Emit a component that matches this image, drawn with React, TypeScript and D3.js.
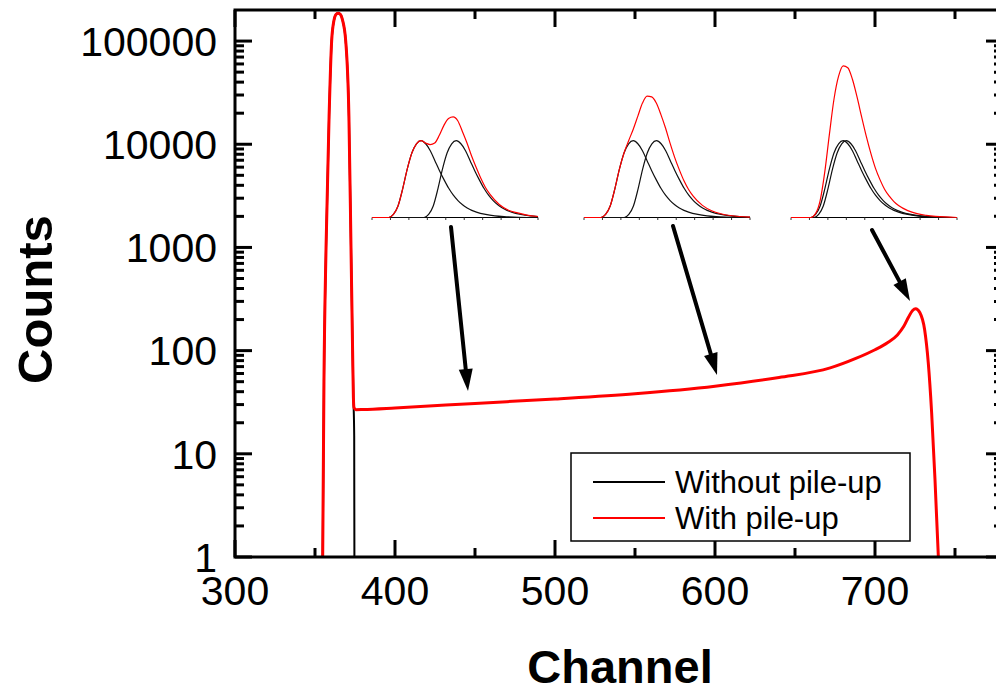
import React from 'react';
import * as d3 from 'd3';

const W = 996;
const H = 692;
const plot = { left: 235, top: 10, right: 1003, bottom: 557 };

// Spectrum without pile-up (channel, counts)
const withoutChannels = [354.6, 354.8, 355.6, 356.9, 358.8, 360.4, 361.9, 363.2, 364.5, 365.8, 367.2, 369.2, 371.2, 372.5, 373.5, 374.0, 374.5, 374.7];
const withoutCounts = [0.5, 1, 50, 1000, 18600, 100000, 160000, 182000, 186000, 182000, 160000, 100000, 18600, 1000, 100, 35, 15, 0.2];

// Spectrum with pile-up (channel, counts)
const withChannels = [354.6, 354.8, 355.6, 356.9, 358.8, 360.4, 361.9, 363.2, 364.5, 365.8, 367.2, 369.2, 371.2, 372.5, 373.5, 374.0, 374.4, 375.5, 380, 400, 450, 500, 550, 600, 640, 672, 688, 700, 708, 714, 718, 721, 723.5, 725.4, 728, 731, 733.3, 735.4, 737.5, 739.6, 741];
const withCounts = [0.5, 1, 50, 1000, 18600, 100000, 160000, 182000, 186000, 182000, 160000, 100000, 18600, 1000, 100, 35, 28, 26.8, 26.9, 27.8, 30.8, 34.0, 38.2, 45.2, 55, 68, 84, 102, 120, 142, 172, 212, 245, 255, 234, 160, 76, 25, 5.6, 1, 0.4];

const xMajorTicks = [300, 400, 500, 600, 700];
const xMinorTicks = [350, 450, 550, 650, 750];
const yTickValues = [1, 10, 100, 1000, 10000, 100000];
const yTickLabels = ['1', '10', '100', '1000', '10000', '100000'];
const legendLabels = ['Without pile-up', 'With pile-up'];
const xTitle = 'Channel';
const yTitle = 'Counts';

// Single detector pulse: offset from its peak (time units) and relative amplitude
const pulseOffsets = [-1.75, -1.5, -1.25, -1, -0.75, -0.5, -0.25, 0, 0.25, 0.5, 0.75, 1, 1.25, 1.5, 1.75, 2, 2.25, 2.5, 2.75, 3, 3.5, 4, 4.5, 5, 6];
const pulseHeights = [0, 0.04, 0.15, 0.37, 0.63, 0.84, 0.96, 1, 0.96, 0.87, 0.74, 0.61, 0.49, 0.38, 0.29, 0.22, 0.165, 0.125, 0.093, 0.07, 0.04, 0.022, 0.012, 0.006, 0];

// Peak times of the two pulses in each inset (time units)
const pulsePeaks1 = [2.66, 4.57];
const pulsePeaks2 = [2.67, 3.93];
const pulsePeaks3 = [2.83, 3.0];

// Piled-up signal in each inset (time, amplitude)
const pileTime1 = [0, 0.91, 1.16, 1.41, 1.66, 1.91, 2.16, 2.41, 2.66, 2.9, 3.15, 3.4, 3.65, 3.9, 4.15, 4.4, 4.65, 4.9, 5.15, 5.4, 5.65, 5.9, 6.15, 6.4, 6.9, 7.4, 7.9, 8.4, 9.0];
const pileAmp1 = [0, 0, 0.04, 0.15, 0.37, 0.63, 0.84, 0.96, 1.0, 0.97, 0.95, 0.97, 1.07, 1.2, 1.29, 1.31, 1.26, 1.12, 0.97, 0.8, 0.65, 0.51, 0.39, 0.3, 0.17, 0.095, 0.06, 0.032, 0.013];
const pileTime2 = [0, 0.92, 1.17, 1.42, 1.67, 1.92, 2.17, 2.42, 2.67, 2.92, 3.17, 3.42, 3.67, 3.92, 4.17, 4.42, 4.67, 4.92, 5.17, 5.42, 5.67, 5.92, 6.42, 6.92, 7.42, 7.92, 8.42, 9.0];
const pileAmp2 = [0, 0, 0.04, 0.15, 0.37, 0.63, 0.84, 1.0, 1.15, 1.32, 1.49, 1.58, 1.57, 1.49, 1.34, 1.165, 0.965, 0.78, 0.62, 0.478, 0.365, 0.278, 0.158, 0.088, 0.049, 0.026, 0.013, 0.006];
const pileTime3 = [0, 1.08, 1.33, 1.58, 1.83, 2.08, 2.33, 2.58, 2.83, 3.08, 3.33, 3.58, 3.83, 4.08, 4.33, 4.58, 4.83, 5.08, 5.33, 5.58, 5.83, 6.33, 6.83, 7.33, 7.83, 8.83, 9.0];
const pileAmp3 = [0, 0, 0.05, 0.22, 0.59, 1.08, 1.54, 1.84, 1.975, 1.95, 1.8, 1.57, 1.31, 1.06, 0.835, 0.64, 0.49, 0.365, 0.277, 0.207, 0.156, 0.09, 0.05, 0.028, 0.014, 0.003, 0];

const insetTicks = [0, 1, 2, 3, 4, 5, 6, 7, 8, 9];

const insets = [
  { x0: 372, peaks: pulsePeaks1, pileT: pileTime1, pileA: pileAmp1 },
  { x0: 584, peaks: pulsePeaks2, pileT: pileTime2, pileA: pileAmp2 },
  { x0: 791, peaks: pulsePeaks3, pileT: pileTime3, pileA: pileAmp3 },
];
const insetWidth = 166;
const insetBase = 217.5;
const insetUnit = 76.8;

// Arrows from each inset down to the matching region of the spectrum
const arrows = [
  { x1: 451, y1: 227, x2: 468, y2: 391 },
  { x1: 673, y1: 226, x2: 717, y2: 375 },
  { x1: 872, y1: 230, x2: 910, y2: 301 },
];

const FONT = "'Liberation Sans', Arial, Helvetica, sans-serif";

export default function App() {
  const x = d3.scaleLinear().domain([300, 780]).range([plot.left, plot.right]);
  const y = d3.scaleLog().domain([1, 200000]).range([plot.bottom, plot.top]);

  const line = d3
    .line<[number, number]>()
    .x((d) => x(d[0]))
    .y((d) => y(d[1]))
    .curve(d3.curveMonotoneX);

  const withoutPath = line(withoutChannels.map((c, i) => [c, withoutCounts[i]]) as [number, number][]) || '';
  const withPath = line(withChannels.map((c, i) => [c, withCounts[i]]) as [number, number][]) || '';

  const yMinor: number[] = [];
  for (let e = 0; e < 6; e++) {
    for (let k = 2; k <= 9; k++) {
      const v = k * Math.pow(10, e);
      if (v < 200000) yMinor.push(v);
    }
  }

  const axisW = 3;
  const majorLen = 17;
  const minorLen = 9;

  return (
    <svg
      width={W}
      height={H}
      viewBox={`0 0 ${W} ${H}`}
      style={{ position: 'absolute', left: 0, top: 0, display: 'block', background: '#fff' }}
      fontFamily={FONT}
    >
      <defs>
        <clipPath id="plotClip">
          <rect x={plot.left} y={plot.top} width={plot.right - plot.left} height={plot.bottom - plot.top} />
        </clipPath>
        {insets.map((ins, i) => (
          <clipPath id={`insetClip${i}`} key={i}>
            <rect x={ins.x0} y={0} width={insetWidth} height={insetBase + 1} />
          </clipPath>
        ))}
      </defs>

      {/* spectrum curves */}
      <g clipPath="url(#plotClip)">
        <path d={withoutPath} fill="none" stroke="#000" strokeWidth={2} />
        <path d={withPath} fill="none" stroke="#ff0000" strokeWidth={3} strokeLinejoin="round" />
      </g>

      {/* frame */}
      <rect
        x={plot.left}
        y={plot.top}
        width={plot.right - plot.left}
        height={plot.bottom - plot.top}
        fill="none"
        stroke="#000"
        strokeWidth={axisW}
      />

      {/* x ticks, bottom and top, pointing inward */}
      {xMajorTicks.map((t) => (
        <g key={`xM${t}`} stroke="#000" strokeWidth={axisW}>
          <line x1={x(t)} x2={x(t)} y1={plot.bottom} y2={plot.bottom - majorLen} />
          <line x1={x(t)} x2={x(t)} y1={plot.top} y2={plot.top + majorLen} />
        </g>
      ))}
      {xMinorTicks.map((t) => (
        <g key={`xm${t}`} stroke="#000" strokeWidth={axisW}>
          <line x1={x(t)} x2={x(t)} y1={plot.bottom} y2={plot.bottom - minorLen} />
          <line x1={x(t)} x2={x(t)} y1={plot.top} y2={plot.top + minorLen} />
        </g>
      ))}
      {xMajorTicks.map((t) => (
        <text key={`xl${t}`} x={x(t)} y={605} fontSize={41} textAnchor="middle" fill="#000">
          {t}
        </text>
      ))}

      {/* y ticks, left and right, pointing inward */}
      {yTickValues.map((v) => (
        <g key={`yM${v}`} stroke="#000" strokeWidth={axisW}>
          <line x1={plot.left} x2={plot.left + majorLen} y1={y(v)} y2={y(v)} />
          <line x1={plot.right} x2={plot.right - majorLen} y1={y(v)} y2={y(v)} />
        </g>
      ))}
      {yMinor.map((v) => (
        <g key={`ym${v}`} stroke="#000" strokeWidth={axisW}>
          <line x1={plot.left} x2={plot.left + minorLen} y1={y(v)} y2={y(v)} />
          <line x1={plot.right} x2={plot.right - minorLen} y1={y(v)} y2={y(v)} />
        </g>
      ))}
      {yTickValues.map((v, i) => (
        <text key={`yl${v}`} x={217} y={y(v)} dy="0.36em" fontSize={41} textAnchor="end" fill="#000">
          {yTickLabels[i]}
        </text>
      ))}

      {/* axis titles */}
      <text x={620} y={683} fontSize={47} fontWeight="bold" textAnchor="middle" fill="#000">
        {xTitle}
      </text>
      <text
        transform={`translate(52,${(plot.top + plot.bottom) / 2 + 16}) rotate(-90)`}
        fontSize={49}
        fontWeight="bold"
        textAnchor="middle"
        fill="#000"
      >
        {yTitle}
      </text>

      {/* insets: two single pulses and their pile-up sum */}
      {insets.map((ins, i) => {
        const ix = d3.scaleLinear().domain([0, 9]).range([ins.x0, ins.x0 + insetWidth]);
        const iy = d3.scaleLinear().domain([0, 2]).range([insetBase, insetBase - 2 * insetUnit]);
        const il = d3
          .line<[number, number]>()
          .x((d) => ix(d[0]))
          .y((d) => iy(d[1]))
          .curve(d3.curveMonotoneX);
        const pulsePaths = ins.peaks.map((p) => {
          const pts: [number, number][] = [[0, 0]];
          pulseOffsets.forEach((o, k) => pts.push([p + o, pulseHeights[k]]));
          pts.push([9.5, 0]);
          return il(pts.filter((d, k, arr) => k === 0 || d[0] > arr[k - 1][0])) || '';
        });
        const pilePath = il(ins.pileT.map((t, k) => [t, ins.pileA[k]]) as [number, number][]) || '';
        return (
          <g key={`inset${i}`}>
            <line x1={ins.x0} x2={ins.x0 + insetWidth} y1={insetBase} y2={insetBase} stroke="#000" strokeWidth={1} />
            {insetTicks.map((t) => (
              <line key={t} x1={ix(t)} x2={ix(t)} y1={insetBase} y2={insetBase + 2.5} stroke="#333" strokeWidth={1} />
            ))}
            <g clipPath={`url(#insetClip${i})`}>
              {pulsePaths.map((d, k) => (
                <path key={k} d={d} fill="none" stroke="#111" strokeWidth={1.2} />
              ))}
              <path d={pilePath} fill="none" stroke="#ff0000" strokeWidth={1.2} />
            </g>
          </g>
        );
      })}

      {/* arrows */}
      {arrows.map((a, i) => {
        const ang = Math.atan2(a.y2 - a.y1, a.x2 - a.x1);
        const hl = 22;
        const hw = 7;
        const bx = a.x2 - hl * Math.cos(ang);
        const by = a.y2 - hl * Math.sin(ang);
        const px = -Math.sin(ang) * hw;
        const py = Math.cos(ang) * hw;
        return (
          <g key={`ar${i}`}>
            <line x1={a.x1} y1={a.y1} x2={bx + 2 * Math.cos(ang)} y2={by + 2 * Math.sin(ang)} stroke="#000" strokeWidth={4} strokeLinecap="round" />
            <polygon points={`${a.x2},${a.y2} ${bx + px},${by + py} ${bx - px},${by - py}`} fill="#000" />
          </g>
        );
      })}

      {/* legend */}
      <g>
        <rect x={571} y={453} width={339} height={88} fill="#fff" stroke="#000" strokeWidth={1.5} />
        <line x1={593} x2={665} y1={482} y2={482} stroke="#000" strokeWidth={2} />
        <line x1={593} x2={665} y1={518} y2={518} stroke="#ff0000" strokeWidth={2} />
        <text x={675} y={482} dy="0.36em" fontSize={31} fill="#000">
          {legendLabels[0]}
        </text>
        <text x={675} y={518} dy="0.36em" fontSize={31} fill="#000">
          {legendLabels[1]}
        </text>
      </g>
    </svg>
  );
}
